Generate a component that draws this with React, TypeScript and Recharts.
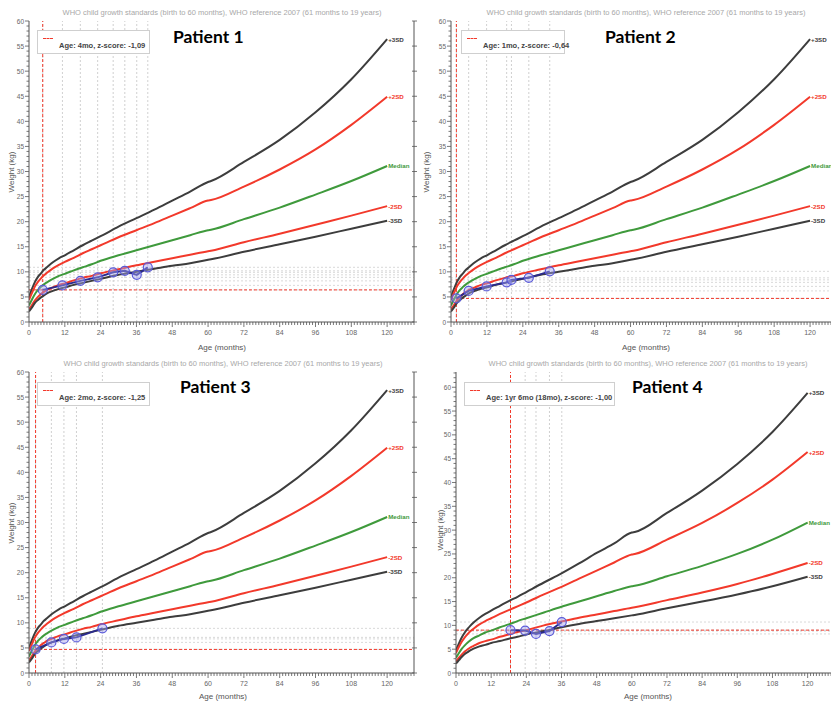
import React from 'react';
import { LineChart, Line, XAxis, YAxis, ReferenceLine } from 'recharts';

// ---------- Reference data (WHO weight-for-age, kg) ----------
const refMonths = [0, 1, 2, 3, 4, 5, 6, 8, 10, 12, 15, 18, 21, 24, 30, 36, 42, 48, 54, 60, 61, 72, 84, 96, 108, 120];

const boysPlus3 = [5.0, 6.6, 8.0, 9.0, 9.7, 10.4, 10.9, 11.9, 12.7, 13.3, 14.3, 15.3, 16.2, 17.1, 19.0, 20.7, 22.4, 24.2, 26.0, 27.9, 28.1, 31.9, 36.3, 41.8, 48.4, 56.4];
const boysPlus2 = [4.4, 5.8, 7.1, 8.0, 8.7, 9.3, 9.8, 10.7, 11.4, 12.0, 12.8, 13.7, 14.5, 15.3, 16.9, 18.3, 19.7, 21.2, 22.7, 24.2, 24.3, 27.0, 30.4, 34.4, 39.3, 44.9];
const boysMedian = [3.3, 4.5, 5.6, 6.4, 7.0, 7.5, 7.9, 8.6, 9.2, 9.6, 10.3, 10.9, 11.5, 12.2, 13.3, 14.3, 15.3, 16.3, 17.3, 18.3, 18.4, 20.5, 22.8, 25.4, 28.1, 31.1];
const boysMinus2 = [2.5, 3.4, 4.3, 5.0, 5.6, 6.0, 6.4, 6.9, 7.4, 7.7, 8.3, 8.8, 9.2, 9.7, 10.5, 11.3, 12.0, 12.7, 13.4, 14.1, 14.2, 15.9, 17.6, 19.4, 21.2, 23.1];
const boysMinus3 = [2.1, 2.9, 3.8, 4.4, 4.9, 5.3, 5.7, 6.2, 6.6, 6.9, 7.4, 7.8, 8.2, 8.6, 9.4, 10.0, 10.6, 11.2, 11.7, 12.4, 12.5, 14.0, 15.5, 17.0, 18.6, 20.2];

const girlsPlus3 = [4.8, 6.2, 7.5, 8.5, 9.3, 10.0, 10.6, 11.6, 12.4, 13.1, 14.1, 15.1, 16.0, 17.0, 19.0, 20.9, 23.0, 25.2, 27.2, 29.5, 29.6, 33.6, 38.3, 43.9, 50.6, 58.8];
const girlsPlus2 = [4.2, 5.5, 6.6, 7.5, 8.2, 8.8, 9.3, 10.2, 10.9, 11.5, 12.4, 13.2, 14.0, 14.8, 16.5, 18.1, 19.8, 21.5, 23.2, 24.9, 25.0, 28.0, 31.5, 35.7, 40.6, 46.4];
const girlsMedian = [3.2, 4.2, 5.1, 5.8, 6.4, 6.9, 7.3, 7.9, 8.5, 8.9, 9.6, 10.2, 10.9, 11.5, 12.7, 13.9, 15.0, 16.1, 17.2, 18.2, 18.3, 20.3, 22.5, 25.0, 28.0, 31.6];
const girlsMinus2 = [2.4, 3.2, 3.9, 4.5, 5.0, 5.4, 5.7, 6.3, 6.7, 7.0, 7.6, 8.1, 8.6, 9.0, 10.0, 10.8, 11.6, 12.3, 13.0, 13.7, 13.8, 15.3, 16.9, 18.7, 20.8, 23.1];
const girlsMinus3 = [2.0, 2.7, 3.4, 4.0, 4.4, 4.8, 5.1, 5.6, 5.9, 6.3, 6.7, 7.2, 7.6, 8.1, 8.8, 9.6, 10.3, 10.9, 11.5, 12.1, 12.2, 13.6, 15.0, 16.5, 18.2, 20.2];

// ---------- Patient data ----------
const p1Months = [4.6, 11.2, 17.2, 23.0, 28.2, 32.1, 36.1, 39.8];
const p1Weights = [6.4, 7.3, 8.2, 8.9, 9.9, 10.2, 9.4, 10.9];
const p2Months = [1.8, 5.9, 11.9, 18.6, 20.2, 26.0, 33.0];
const p2Weights = [4.7, 6.2, 7.1, 7.9, 8.4, 8.8, 10.1];
const p3Months = [2.2, 7.5, 11.7, 15.9, 24.6];
const p3Weights = [4.7, 6.1, 6.8, 7.1, 8.9];
const p4Months = [18.6, 23.6, 27.3, 31.9, 36.1];
const p4Weights = [9.0, 8.9, 8.2, 8.8, 10.7];

const patientNames = ['Patient 1', 'Patient 2', 'Patient 3', 'Patient 4'];
const legendTexts = ['Age: 4mo, z-score: -1,09', 'Age: 1mo, z-score: -0,64', 'Age: 2mo, z-score: -1,25', 'Age: 1yr 6mo (18mo), z-score: -1,00'];
const curveLabels = ['+3SD', '+2SD', 'Median', '-2SD', '-3SD'];
const titleText = 'WHO child growth standards (birth to 60 months), WHO reference 2007 (61 months to 19 years)';
const xTitle = 'Age (months)';
const yTitle = 'Weight (kg)';

const X_MAX = 129;

const buildRows = (s: number[][]) =>
  refMonths.map((m, i) => ({ m, p3: s[0][i], p2: s[1][i], med: s[2][i], m2: s[3][i], m3: s[4][i] }));
const boysRows = buildRows([boysPlus3, boysPlus2, boysMedian, boysMinus2, boysMinus3]);
const girlsRows = buildRows([girlsPlus3, girlsPlus2, girlsMedian, girlsMinus2, girlsMinus3]);
const buildPts = (ms: number[], ws: number[]) => ms.map((m, i) => ({ m, w: ws[i] }));

const FONT = '"Liberation Sans", Arial, sans-serif';
const DARK = '#3d3d3d';
const RED = '#f2392b';
const GREEN = '#3f9a3c';
const AXIS = '#555';
const TICKTXT = '#666';

const range = (a: number, b: number) => {
  const r: number[] = [];
  for (let i = a; i <= b; i++) r.push(i);
  return r;
};

const BottomTick = (props: any) => {
  const { x, y, payload } = props;
  const v = payload.value;
  const major = v % 12 === 0;
  return (
    <g>
      <line x1={x} x2={x} y1={y} y2={y + (major ? 5 : 3)} stroke={AXIS} strokeWidth={0.8} />
      {major && v <= 120 ? (
        <text x={x} y={y + 13} textAnchor="middle" fontSize={7} fill={TICKTXT} fontFamily={FONT}>{v}</text>
      ) : null}
    </g>
  );
};
const TopTick = (props: any) => {
  const { x, y, payload } = props;
  const major = payload.value % 12 === 0;
  return <line x1={x} x2={x} y1={y} y2={y + (major ? 4 : 2.5)} stroke={AXIS} strokeWidth={0.8} />;
};
const LeftTick = (props: any) => {
  const { x, y, payload } = props;
  const v = payload.value;
  const major = v % 5 === 0;
  return (
    <g>
      <line x1={x} x2={x - (major ? 4 : 2.5)} y1={y} y2={y} stroke={AXIS} strokeWidth={0.8} />
      {major ? (
        <text x={x - 5} y={y + 2.5} textAnchor="end" fontSize={6.5} fill={TICKTXT} fontFamily={FONT}>{v}</text>
      ) : null}
    </g>
  );
};
const RightTick = (props: any) => {
  const { x, y } = props;
  return <line x1={x - 2} x2={x + 3} y1={y} y2={y} stroke={AXIS} strokeWidth={0.8} />;
};

type PanelProps = {
  left: number; top: number; width: number; height: number;
  plotLeft: number; plotTop: number; plotBottom: number; yMax: number;
  rows: any[]; pts: { m: number; w: number }[];
};

const Panel = (p: PanelProps) => {
  const yLeft = p.plotLeft - p.left;
  const mTop = p.plotTop - p.top;
  const xAxisH = p.height - (p.plotBottom - p.top);
  const n = p.rows.length;
  const marker = p.pts[0];
  const yTicksMinor = range(0, Math.floor(p.yMax));
  const yTicksMajor = yTicksMinor.filter((v) => v % 5 === 0);
  const xTicks = range(0, X_MAX);
  const endLabel = (text: string, color: string) => (props: any) =>
    props.index === n - 1 ? (
      <text key={text} x={props.x + 1} y={props.y + 2.5} fontSize={6.2} fontWeight="bold" fill={color} fontFamily={FONT}>{text}</text>
    ) : (
      <g key={text + props.index} />
    );
  const curves = [
    { key: 'p3', color: DARK },
    { key: 'p2', color: RED },
    { key: 'med', color: GREEN },
    { key: 'm2', color: RED },
    { key: 'm3', color: DARK },
  ];
  return (
    <div style={{ position: 'absolute', left: p.left, top: p.top, width: p.width, height: p.height }}>
      <LineChart width={p.width} height={p.height} margin={{ top: mTop, right: 0, bottom: 0, left: 0 }}>
        <XAxis xAxisId="b" dataKey="m" type="number" domain={[0, X_MAX]} ticks={xTicks} interval={0}
          height={xAxisH} tickSize={0} tickMargin={0} tickLine={false} tick={BottomTick}
          axisLine={{ stroke: AXIS, strokeWidth: 1 }} allowDataOverflow />
        <XAxis xAxisId="t" orientation="top" dataKey="m" type="number" domain={[0, X_MAX]} ticks={xTicks} interval={0}
          height={0} tickSize={0} tickMargin={0} tickLine={false} tick={TopTick}
          axisLine={{ stroke: AXIS, strokeWidth: 1 }} allowDataOverflow />
        <YAxis yAxisId="l" type="number" domain={[0, p.yMax]} ticks={yTicksMinor} interval={0}
          width={yLeft} tickSize={0} tickMargin={0} tickLine={false} tick={LeftTick}
          axisLine={{ stroke: AXIS, strokeWidth: 1 }} allowDataOverflow />
        <YAxis yAxisId="r" orientation="right" type="number" domain={[0, p.yMax]} ticks={yTicksMajor} interval={0}
          width={4} tickSize={0} tickMargin={0} tickLine={false} tick={RightTick}
          axisLine={{ stroke: AXIS, strokeWidth: 1 }} allowDataOverflow />
        {p.pts.map((pt, i) => (
          <ReferenceLine key={'vx' + i} xAxisId="b" yAxisId="l" x={pt.m} stroke="#c4c4c4" strokeWidth={0.8} strokeDasharray="2 2" />
        ))}
        {p.pts.map((pt, i) => (
          <ReferenceLine key={'hy' + i} xAxisId="b" yAxisId="l" y={pt.w} stroke="#cfcfcf" strokeWidth={0.8} strokeDasharray="2 2" />
        ))}
        <ReferenceLine xAxisId="b" yAxisId="l" x={marker.m} stroke={RED} strokeWidth={1} strokeDasharray="3 2" />
        <ReferenceLine xAxisId="b" yAxisId="l" y={marker.w} stroke={RED} strokeWidth={1} strokeDasharray="3 2" />
        {curves.map((c, i) => (
          <Line key={c.key} xAxisId="b" yAxisId="l" data={p.rows} dataKey={c.key} type="monotone"
            stroke={c.color} strokeWidth={2} dot={false} isAnimationActive={false}
            label={endLabel(curveLabels[i], c.color)} />
        ))}
        <Line xAxisId="b" yAxisId="l" data={p.pts} dataKey="w" type="linear" stroke="#2a2a8c" strokeWidth={2}
          dot={{ r: 4.5, stroke: '#5a5ad8', strokeWidth: 1.2, fill: 'rgba(165,165,240,0.45)' }}
          isAnimationActive={false} />
      </LineChart>
    </div>
  );
};

const Texts = ({ py, titleX, ageY, weightX, weightY, name, nameX, nameY, legend, legendX, legendY, legendW }: any) => (
  <>
    <div style={{ position: 'absolute', left: titleX - 200, top: py, width: 400, textAlign: 'center', fontFamily: FONT, fontSize: 7.5, color: '#a8a8a8', whiteSpace: 'nowrap' }}>{titleText}</div>
    <div style={{ position: 'absolute', left: titleX - 60, top: ageY, width: 120, textAlign: 'center', fontFamily: FONT, fontSize: 8, color: '#555' }}>{xTitle}</div>
    <div style={{ position: 'absolute', left: weightX - 40, top: weightY - 6, width: 80, height: 12, textAlign: 'center', fontFamily: FONT, fontSize: 8, color: '#555', transform: 'rotate(-90deg)' }}>{yTitle}</div>
    <div style={{ position: 'absolute', left: nameX, top: nameY - 12, fontFamily: 'Lato, "Open Sans", sans-serif', fontWeight: 700, fontSize: 17.5, color: '#000', whiteSpace: 'nowrap' }}>{name}</div>
    <div style={{ position: 'absolute', left: legendX, top: legendY, width: legendW, height: 24, boxSizing: 'border-box', border: '1px solid #cfcfcf', background: '#fff' }}>
      <div style={{ position: 'absolute', left: 5, top: 7, width: 10, borderTop: '1px dashed ' + RED }} />
      <div style={{ position: 'absolute', left: 21, top: 10, fontFamily: FONT, fontWeight: 700, fontSize: 7.5, color: '#444', whiteSpace: 'nowrap' }}>{legend}</div>
    </div>
  </>
);

export default function App() {
  return (
    <div style={{ position: 'fixed', left: 0, top: 0, width: 831, height: 703, overflow: 'hidden', background: '#fff' }}>
      <Panel left={0} top={0} width={418} height={342} plotLeft={29} plotTop={21} plotBottom={322} yMax={60}
        rows={boysRows} pts={buildPts(p1Months, p1Weights)} />
      <Panel left={415} top={0} width={426} height={342} plotLeft={451} plotTop={21} plotBottom={322} yMax={60}
        rows={boysRows} pts={buildPts(p2Months, p2Weights)} />
      <Panel left={0} top={352} width={418} height={342} plotLeft={29} plotTop={372} plotBottom={673} yMax={60}
        rows={boysRows} pts={buildPts(p3Months, p3Weights)} />
      <Panel left={415} top={352} width={423} height={342} plotLeft={456} plotTop={372} plotBottom={673} yMax={63.2}
        rows={girlsRows} pts={buildPts(p4Months, p4Weights)} />
      <Texts py={8} titleX={222} ageY={343} weightX={13} weightY={172} name={patientNames[0]} nameX={173} nameY={38}
        legend={legendTexts[0]} legendX={37} legendY={30} legendW={113} />
      <Texts py={8} titleX={646} ageY={343} weightX={428} weightY={172} name={patientNames[1]} nameX={605} nameY={38}
        legend={legendTexts[1]} legendX={461} legendY={30} legendW={104} />
      <Texts py={359} titleX={223} ageY={692} weightX={13} weightY={523} name={patientNames[2]} nameX={180} nameY={388}
        legend={legendTexts[2]} legendX={37} legendY={382} legendW={113} />
      <Texts py={359} titleX={648} ageY={692} weightX={442} weightY={530} name={patientNames[3]} nameX={632} nameY={388}
        legend={legendTexts[3]} legendX={464} legendY={382} legendW={151} />
    </div>
  );
}
